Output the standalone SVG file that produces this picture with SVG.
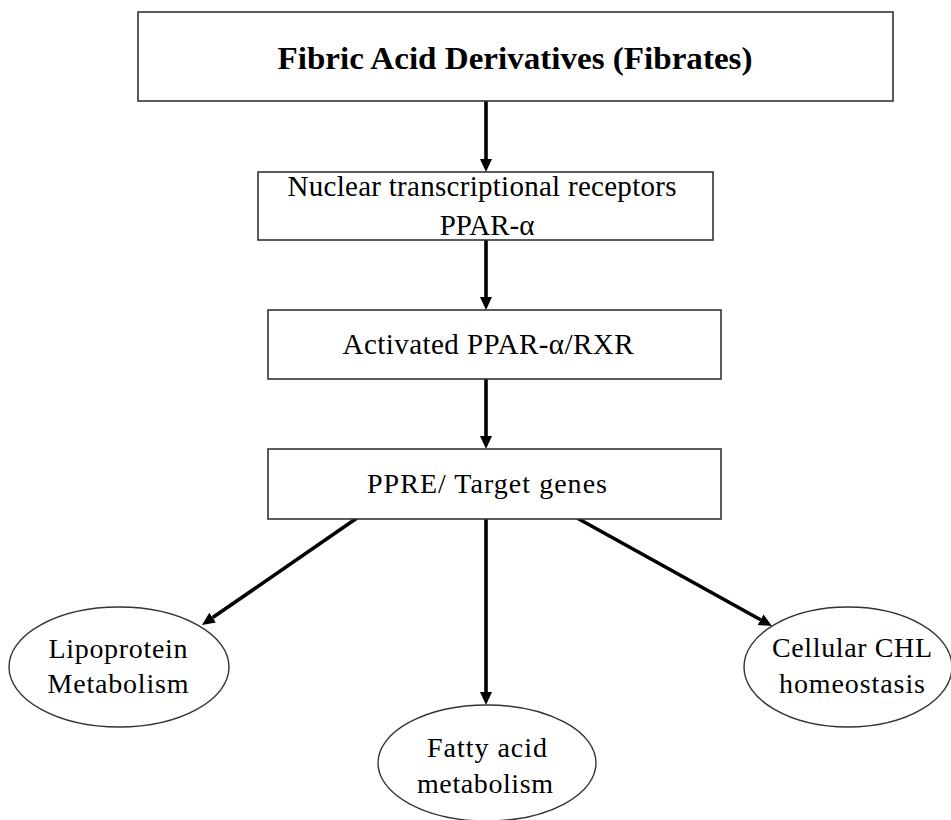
<svg xmlns="http://www.w3.org/2000/svg" width="951" height="820" viewBox="0 0 951 820">
<defs>
<style>
.box{fill:#fff;stroke:#333;stroke-width:1.6}
.ell{fill:#fff;stroke:#333;stroke-width:1.4}
.t{font-family:"Liberation Serif","Times New Roman",serif;font-size:29px;fill:#000;text-anchor:middle}
.tb{font-family:"Liberation Serif","Times New Roman",serif;font-size:31px;font-weight:bold;fill:#000;text-anchor:middle}
.e{font-family:"Liberation Serif","Times New Roman",serif;font-size:28px;fill:#000;text-anchor:middle}
.arr{stroke:#000;stroke-width:3.6;fill:none;marker-end:url(#ah)}
</style>
<marker id="ah" markerUnits="userSpaceOnUse" markerWidth="14" markerHeight="14" refX="0" refY="7" orient="auto" viewBox="0 0 14 14">
<path d="M0,1 L13,7 L0,13 z" fill="#000"/>
</marker>
</defs>
<rect width="951" height="820" fill="#fff"/>
<g id="connectors">
<line class="arr" x1="486" y1="101" x2="486" y2="159"/>
<line class="arr" x1="486" y1="240" x2="486" y2="297"/>
<line class="arr" x1="486" y1="379" x2="486" y2="436"/>
<line class="arr" x1="357" y1="518" x2="212.7" y2="617.6"/>
<line class="arr" x1="486" y1="519" x2="486" y2="692"/>
<line class="arr" x1="577" y1="518" x2="760.6" y2="619.7"/>
</g>
<g id="fibrates">
<rect class="box" x="138" y="12" width="755" height="89"/>
<text class="tb" x="515" y="69" textLength="475" lengthAdjust="spacingAndGlyphs">Fibric Acid Derivatives (Fibrates)</text>
</g>
<g id="ppar">
<rect class="box" x="258" y="172" width="455" height="68"/>
<text class="t" x="482" y="196" textLength="389" lengthAdjust="spacing">Nuclear transcriptional receptors</text>
<text class="t" x="487" y="235">PPAR-α</text>
</g>
<g id="activated">
<rect class="box" x="268" y="310" width="453" height="69"/>
<text class="t" x="488" y="354" textLength="291" lengthAdjust="spacing">Activated PPAR-α/RXR</text>
</g>
<g id="ppre">
<rect class="box" x="268" y="449" width="453" height="70"/>
<text class="t" x="487" y="493" style="font-size:28px" textLength="240" lengthAdjust="spacing">PPRE/ Target genes</text>
</g>
<g id="lipoprotein">
<ellipse class="ell" cx="119" cy="667" rx="110" ry="60"/>
<text class="e" x="118" y="658" textLength="139" lengthAdjust="spacing">Lipoprotein</text>
<text class="e" x="118" y="693" textLength="141" lengthAdjust="spacing">Metabolism</text>
</g>
<g id="fatty">
<ellipse class="ell" cx="487" cy="763" rx="109" ry="58"/>
<text class="e" x="487" y="757" textLength="120" lengthAdjust="spacing">Fatty acid</text>
<text class="e" x="485" y="793" textLength="136" lengthAdjust="spacing">metabolism</text>
</g>
<g id="cellular">
<ellipse class="ell" cx="848" cy="667" rx="104" ry="60"/>
<text class="e" x="852" y="657" textLength="160" lengthAdjust="spacing">Cellular CHL</text>
<text class="e" x="852" y="693" textLength="146" lengthAdjust="spacing">homeostasis</text>
</g>
</svg>
